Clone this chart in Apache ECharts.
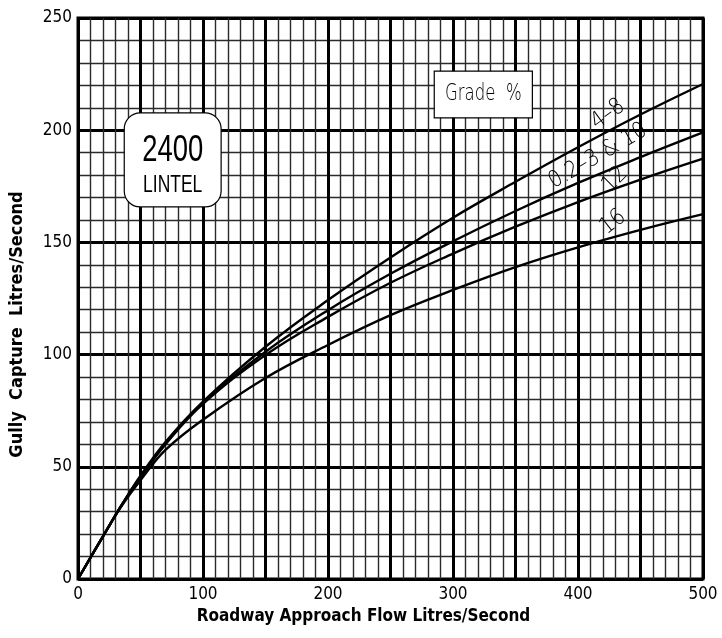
<!DOCTYPE html>
<html>
<head>
<meta charset="utf-8">
<script src="https://cdn.jsdelivr.net/npm/echarts@6/dist/echarts.min.js"></script>
<style>
  html, body { margin: 0; padding: 0; background: #fff; }
  #chart { width: 722px; height: 638px; }
</style>
</head>
<body>
<div id="chart"></div>
<script>
// Gully capture curves for a 2400 lintel inlet, one curve per road grade group.
const approachFlow = [0, 20, 35, 50, 70, 100, 150, 200, 250, 300, 350, 400, 450, 500];

const capture_4_8   = [0, 19, 33, 46.0, 61.0, 79.0, 103.5, 124.3, 143.3, 161.0, 177.0, 192.4, 207.0, 220.6];
const capture_02_10 = [0, 19, 33, 45.6, 60.5, 78.6, 101.3, 119.8, 136.0, 150.5, 164.0, 176.5, 188.0, 199.0];
const capture_12    = [0, 19, 33, 45.4, 60.0, 78.0,  99.8, 116.8, 132.0, 145.0, 157.0, 168.0, 178.0, 187.3];
const capture_16    = [0, 19, 32.6, 44.0, 57.5, 71.0, 89.6, 104.3, 117.6, 128.8, 139.0, 147.8, 155.6, 162.6];

const xTicks = [0, 100, 200, 300, 400, 500];
const yTicks = [0, 50, 100, 150, 200, 250];

// Curve labels: text, anchor point in data units, rotation in degrees
const curveLabels = [
  { text: '4–8',           at: [424, 207],   rot: 36 },
  { text: '0.2–3 & 10',    at: [416, 188.5], rot: 30 },
  { text: '12',            at: [429.5, 178], rot: 45 },
  { text: '16',            at: [428, 159],   rot: 38 }
];

function pairs(ys) { return approachFlow.map((x, i) => [x, ys[i]]); }

const chart = echarts.init(document.getElementById('chart'), null, { renderer: 'canvas' });

const tickFont = { fontFamily: 'DejaVu Sans Condensed', fontSize: 17, color: '#000', fontWeight: 'normal' };
const titleFont = { fontFamily: 'DejaVu Sans Condensed', fontSize: 17, color: '#000', fontWeight: 'bold' };

function curve(name, ys) {
  return {
    name: name,
    type: 'line',
    data: pairs(ys),
    smooth: 0.4,
    symbol: 'none',
    lineStyle: { color: '#000', width: 2.4 },
    z: 5
  };
}

chart.setOption({
  animation: false,
  backgroundColor: '#fff',
  grid: {
    left: 78, right: 19, top: 18, bottom: 59,
    show: true, borderColor: '#000', borderWidth: 3, backgroundColor: 'transparent'
  },
  xAxis: {
    type: 'value', min: 0, max: 500, interval: 50,
    name: 'Roadway Approach Flow Litres/Second',
    nameLocation: 'middle', nameGap: 19,
    nameTextStyle: Object.assign({ padding: [0, 54, 0, 0] }, titleFont),
    axisLine: { show: false },
    axisTick: { show: false },
    axisLabel: Object.assign({
      margin: 7,
      formatter: v => (xTicks.indexOf(v) >= 0 ? String(v) : '')
    }, tickFont),
    splitLine: { show: true, lineStyle: { color: '#000', width: 3 } },
    minorTick: { show: false, splitNumber: 5 },
    minorSplitLine: { show: true, lineStyle: { color: '#2a2a2a', width: 1.4 } }
  },
  yAxis: {
    type: 'value', min: 0, max: 250, interval: 50,
    name: 'Gully  Capture  Litres/Second',
    nameLocation: 'middle', nameGap: 52,
    nameTextStyle: Object.assign({ padding: [0, 52, 0, 0] }, titleFont, { fontSize: 18 }),
    axisLine: { show: false },
    axisTick: { show: false },
    axisLabel: Object.assign({
      margin: 6,
      formatter: v => (yTicks.indexOf(v) >= 0 ? String(v) : '')
    }, tickFont),
    splitLine: { show: true, lineStyle: { color: '#000', width: 3 } },
    minorTick: { show: false, splitNumber: 5 },
    minorSplitLine: { show: true, lineStyle: { color: '#2a2a2a', width: 1.4 } }
  },
  series: [
    curve('4-8', capture_4_8),
    curve('0.2-3 & 10', capture_02_10),
    curve('12', capture_12),
    curve('16', capture_16)
  ]
});

// Annotation boxes and rotated curve labels, placed from data coordinates
function px(pt) { return chart.convertToPixel({ gridIndex: 0 }, pt); }

const lintelBox = px([37, 207.7]);
const lintelEnd = px([114.5, 165.8]);
const gradeBox = px([285, 226.3]);
const gradeEnd = px([363.5, 205.5]);

const labelFont = 'DejaVu Sans';

const lintelCx = (lintelBox[0] + lintelEnd[0]) / 2;

const graphics = [
  {
    type: 'rect', z: 20,
    shape: { x: lintelBox[0], y: lintelBox[1], width: lintelEnd[0] - lintelBox[0], height: lintelEnd[1] - lintelBox[1], r: 16 },
    style: { fill: '#fff', stroke: '#000', lineWidth: 1.2 }
  },
  {
    type: 'text', z: 21,
    x: lintelCx, y: lintelBox[1] + 38, scaleX: 0.74,
    style: { text: '2400', fontFamily: 'Liberation Sans', fontSize: 37, fill: '#000', align: 'center', verticalAlign: 'middle' }
  },
  {
    type: 'text', z: 21,
    x: lintelCx, y: lintelBox[1] + 73, scaleX: 0.76,
    style: { text: 'LINTEL', fontFamily: 'Liberation Sans', fontSize: 23, fill: '#000', align: 'center', verticalAlign: 'middle' }
  },
  {
    type: 'rect', z: 20,
    shape: { x: gradeBox[0], y: gradeBox[1], width: gradeEnd[0] - gradeBox[0], height: gradeEnd[1] - gradeBox[1] },
    style: { fill: '#fff', stroke: '#000', lineWidth: 1.2 }
  },
  {
    type: 'text', z: 21,
    x: (gradeBox[0] + gradeEnd[0]) / 2, y: (gradeBox[1] + gradeEnd[1]) / 2, scaleX: 0.72,
    style: { text: 'Grade  %', fontFamily: labelFont, fontWeight: 200, fontSize: 23, fill: '#000', align: 'center', verticalAlign: 'middle' }
  }
];

curveLabels.forEach(l => {
  const p = px(l.at);
  graphics.push({
    type: 'text', z: 21,
    x: p[0], y: p[1], rotation: l.rot * Math.PI / 180, scaleX: 0.88,
    style: { text: l.text, fontFamily: labelFont, fontWeight: 200, fontSize: 23, fill: '#000', align: 'center', verticalAlign: 'middle' }
  });
});

chart.setOption({ graphic: graphics });
</script>
</body>
</html>
